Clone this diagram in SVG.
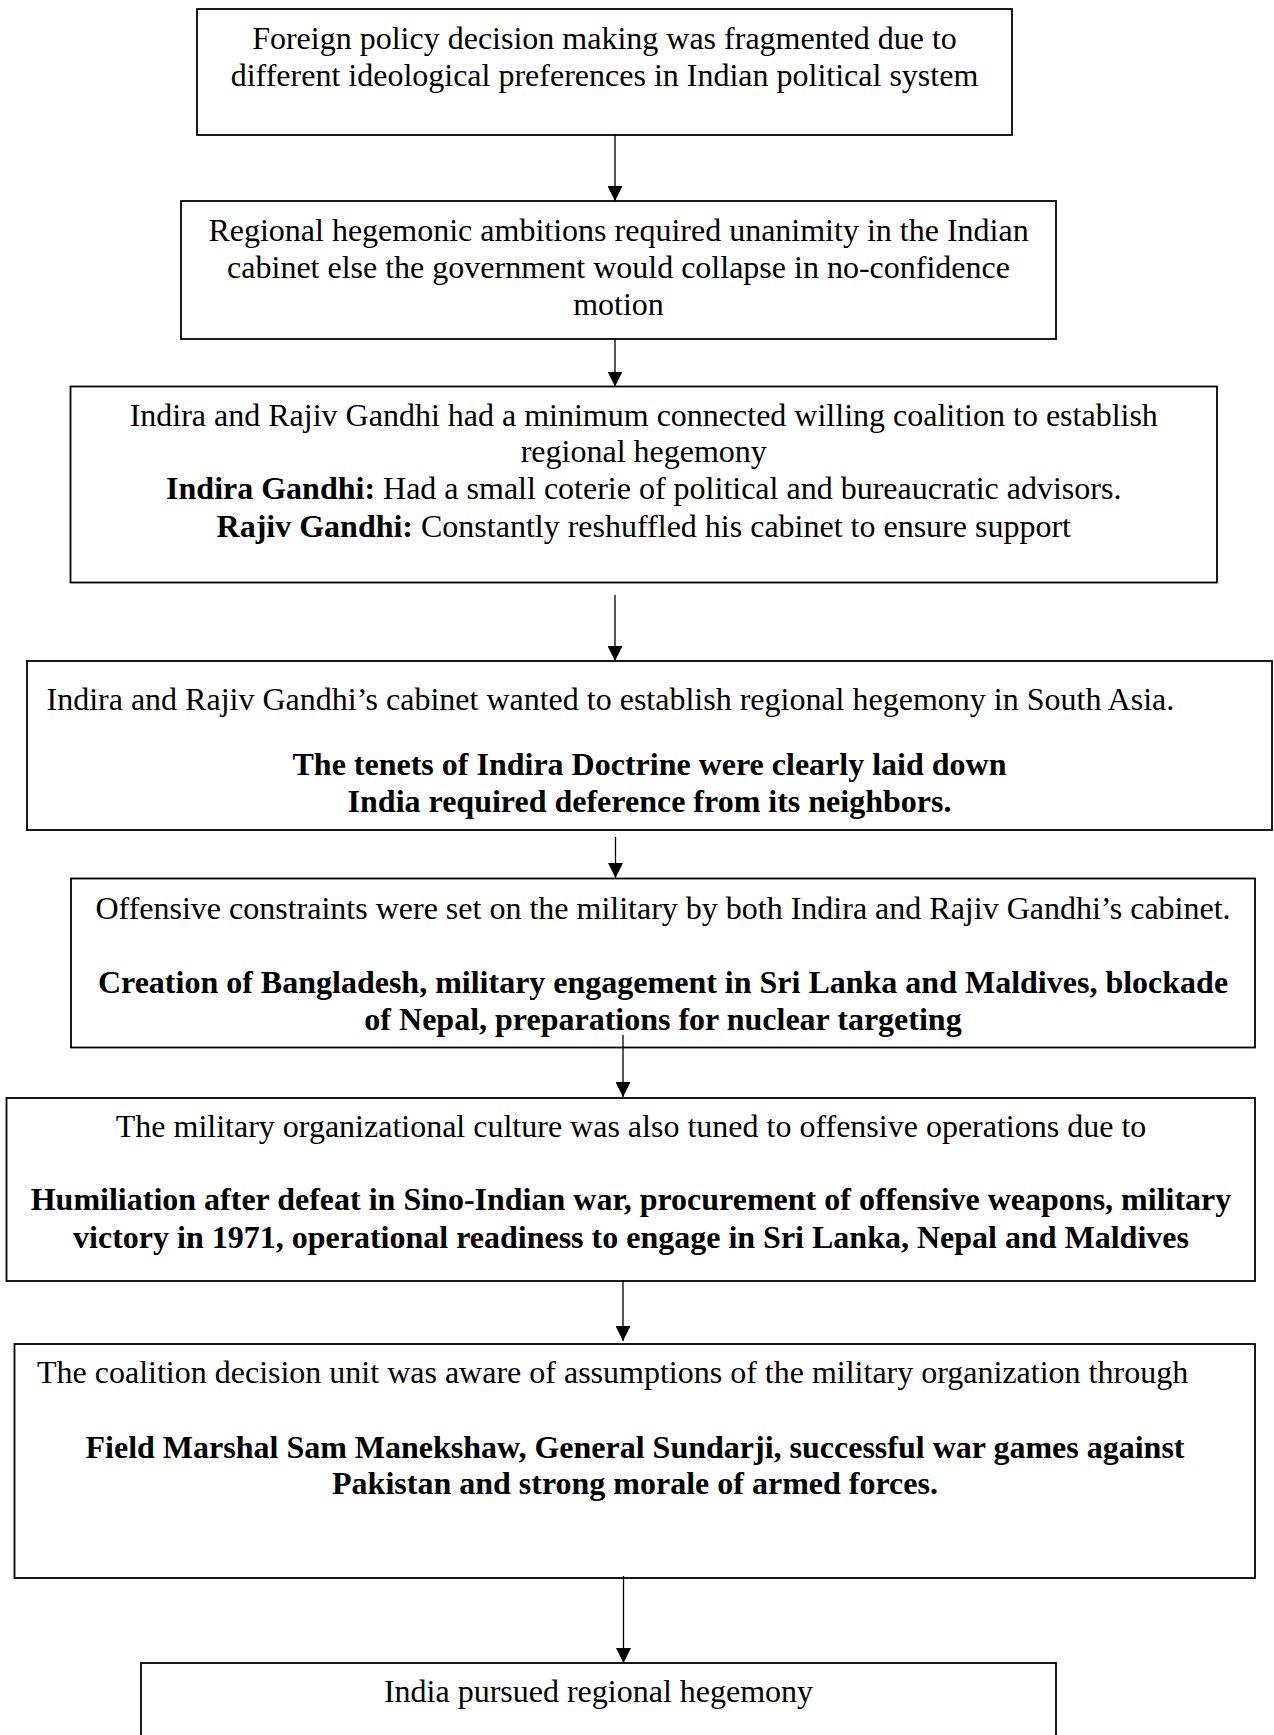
<svg xmlns="http://www.w3.org/2000/svg" width="1274" height="1735" viewBox="0 0 1274 1735">
<style>
.box{fill:#fff;stroke:#000;stroke-width:1.8}
text{font-family:"Liberation Serif","Times New Roman",serif;font-size:32px;fill:#000}
.c{text-anchor:middle}
.b{font-weight:bold}
.conn line{stroke:#000;stroke-width:1.3}
</style>
<defs>
<marker id="ah" markerUnits="userSpaceOnUse" markerWidth="15" markerHeight="15" refX="15" refY="7.5" orient="auto">
<path d="M0,0 L15,7.5 L0,15 z" fill="#000"/>
</marker>
</defs>
<rect width="1274" height="1735" fill="#fff"/>
<g class="conn">
<line x1="615" y1="135" x2="615" y2="201" marker-end="url(#ah)"/>
<line x1="615" y1="339" x2="615" y2="386.5" marker-end="url(#ah)"/>
<line x1="615" y1="595" x2="615" y2="661" marker-end="url(#ah)"/>
<line x1="615.5" y1="837" x2="615.5" y2="878" marker-end="url(#ah)"/>
</g>
<g id="n1"><rect class="box" x="197" y="9" width="815" height="126"/>
<text class="c" x="604.5" y="48.5">Foreign policy decision making was fragmented due to</text>
<text class="c" x="604.5" y="86">different ideological preferences in Indian political system</text></g>
<g id="n2"><rect class="box" x="181" y="201" width="875" height="138"/>
<text class="c" x="618.5" y="241">Regional hegemonic ambitions required unanimity in the Indian</text>
<text class="c" x="618.5" y="278">cabinet else the government would collapse in no-confidence</text>
<text class="c" x="618.5" y="315">motion</text></g>
<g id="n3"><rect class="box" x="70.5" y="386.5" width="1146.5" height="196"/>
<text class="c" x="643.75" y="426">Indira and Rajiv Gandhi had a minimum connected willing coalition to establish</text>
<text class="c" x="643.75" y="462">regional hegemony</text>
<text class="c" x="643.75" y="499"><tspan class="b">Indira Gandhi:</tspan> Had a small coterie of political and bureaucratic advisors.</text>
<text class="c" x="643.75" y="537"><tspan class="b">Rajiv Gandhi:</tspan> Constantly reshuffled his cabinet to ensure support</text></g>
<g id="n4"><rect class="box" x="27" y="661" width="1245" height="169"/>
<text x="46.5" y="710">Indira and Rajiv Gandhi’s cabinet wanted to establish regional hegemony in South Asia.</text>
<text class="c b" x="649.5" y="775">The tenets of Indira Doctrine were clearly laid down</text>
<text class="c b" x="649.5" y="812">India required deference from its neighbors.</text></g>
<g id="n5"><rect class="box" x="71" y="878.5" width="1184" height="169"/>
<text class="c" x="663" y="918.5">Offensive constraints were set on the military by both Indira and Rajiv Gandhi’s cabinet.</text>
<text class="c b" x="663" y="993">Creation of Bangladesh, military engagement in Sri Lanka and Maldives, blockade</text>
<text class="c b" x="663" y="1029.5">of Nepal, preparations for nuclear targeting</text></g>
<g id="n6"><rect class="box" x="6.5" y="1098" width="1248.5" height="183"/>
<text class="c" x="631" y="1137">The military organizational culture was also tuned to offensive operations due to</text>
<text class="c b" x="631" y="1210">Humiliation after defeat in Sino-Indian war, procurement of offensive weapons, military</text>
<text class="c b" x="631" y="1248">victory in 1971, operational readiness to engage in Sri Lanka, Nepal and Maldives</text></g>
<g id="n7"><rect class="box" x="14.5" y="1344" width="1240.5" height="234"/>
<text x="37" y="1383">The coalition decision unit was aware of assumptions of the military organization through</text>
<text class="c b" x="635" y="1458">Field Marshal Sam Manekshaw, General Sundarji, successful war games against</text>
<text class="c b" x="635" y="1494">Pakistan and strong morale of armed forces.</text></g>
<g id="n8"><rect class="box" x="141" y="1663" width="915" height="100"/>
<text class="c" x="598.5" y="1701.5">India pursued regional hegemony</text></g>
<g class="conn">
<line x1="623" y1="1035" x2="623" y2="1097" marker-end="url(#ah)"/>
<line x1="623" y1="1281" x2="623" y2="1341" marker-end="url(#ah)"/>
<line x1="623.5" y1="1576" x2="623.5" y2="1663" marker-end="url(#ah)"/>
</g>
</svg>
